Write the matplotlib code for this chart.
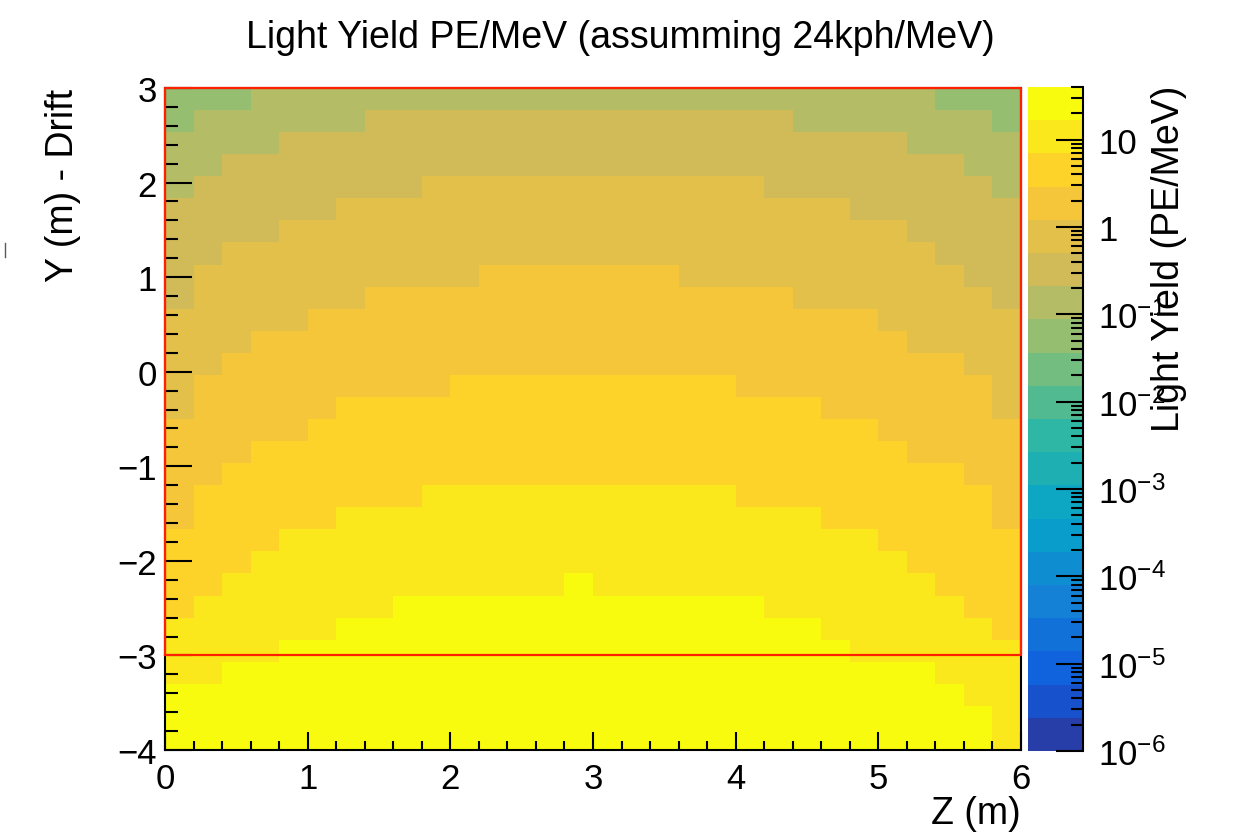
import numpy as np
import matplotlib
matplotlib.use("Agg")
import matplotlib.pyplot as plt
from matplotlib.colors import ListedColormap, LogNorm, to_hex
from matplotlib.ticker import MultipleLocator, LogLocator
from matplotlib.lines import Line2D

plt.rcParams['font.family'] = ['Liberation Sans', 'DejaVu Sans']
plt.rcParams['mathtext.fontset'] = 'custom'
plt.rcParams['mathtext.rm'] = 'Liberation Sans'
plt.rcParams['mathtext.default'] = 'regular'

### binning of the 2D histogram: Z (m) along x, Y (m) along y
z_edges = np.linspace(0.0, 6.0, 31)
y_edges = np.linspace(-4.0, 3.0, 31)

### colour band of every bin, as runs along Z
### (first row = top row at y=3, 30 bins per row)
rows = [
    "a3 b24 a3",
    "a1 b6 c15 b7 a1",
    "b4 c22 b4",
    "b2 c26 b2",
    "b1 c8 d12 c8 b1",
    "c6 d18 c6",
    "c4 d22 c4",
    "c2 d25 c3",
    "c1 d10 e7 d10 c2",
    "c1 d6 e15 d7 c1",
    "d5 e20 d5",
    "d3 e23 d4",
    "d2 e26 d2",
    "d1 e9 f10 e9 d1",
    "d1 e5 f17 e6 d1",
    "e5 f20 e5",
    "e3 f23 e4",
    "e2 f26 e2",
    "e1 f8 g11 f9 e1",
    "e1 f5 g17 f6 e1",
    "f4 g21 f5",
    "f3 g23 f4",
    "f2 g12 h1 g12 f3",
    "f1 g7 h13 g7 f2",
    "g6 h17 g6 f1",
    "g4 h20 g6",
    "g2 h25 g3",
    "h28 g2",
    "h29 g1",
    "h29 g1",
]
# light yield (PE/MeV) typical of each colour band
band_value = {'a': 0.06, 'b': 0.14, 'c': 0.33, 'd': 0.78,
              'e': 1.9, 'f': 4.5, 'g': 11.0, 'h': 26.0}

z_min, z_max = 1e-6, 40.0
n_contours = 20

cbar_ticks = [1e-6, 1e-5, 1e-4, 1e-3, 1e-2, 1e-1, 1, 10]
cbar_labels = [r'$10^{-6}$', r'$10^{-5}$', r'$10^{-4}$', r'$10^{-3}$',
               r'$10^{-2}$', r'$10^{-1}$', '1', '10']

# drift volume outline
box_z = [0.0, 6.0]
box_y = [-3.0, 3.0]

def expand(runs):
    return ''.join(tok[0] * int(tok[1:]) for tok in runs.split())

grid = [expand(r) for r in rows]
light = np.array([[band_value[c] for c in r] for r in grid[::-1]])

### ROOT kBird palette, 20 contour colours
stops = np.linspace(0, 1, 9)
red = [0.2082, 0.0592, 0.0780, 0.0232, 0.1802, 0.5301, 0.8186, 0.9956, 0.9764]
green = [0.1664, 0.3599, 0.5041, 0.6419, 0.7178, 0.7492, 0.7328, 0.7862, 0.9832]
blue = [0.5293, 0.8684, 0.8385, 0.7914, 0.6425, 0.4662, 0.3499, 0.1968, 0.0539]
fr = [int((k + 0.99) * 255 / n_contours) / 254.0 for k in range(n_contours)]
cols = [to_hex((np.interp(f, stops, red), np.interp(f, stops, green), np.interp(f, stops, blue))) for f in fr]
cmap = ListedColormap(cols)

fig = plt.figure(figsize=(12.4, 8.37), dpi=100)
ax = fig.add_axes([165/1240, 1-751/837, 856/1240, 662/837])
cax = fig.add_axes([1028/1240, 1-752/837, 55/1240, 664/837])

mesh = ax.pcolormesh(z_edges, y_edges, light, cmap=cmap, norm=LogNorm(z_min, z_max))
ax.set_xlim(z_edges[0], z_edges[-1])
ax.set_ylim(y_edges[0], y_edges[-1])

ax.plot([box_z[0], box_z[0], box_z[1], box_z[1], box_z[0]],
        [box_y[0], box_y[1], box_y[1], box_y[0], box_y[0]],
        color='#ff2000', lw=1.6, clip_on=False, zorder=5)

ax.xaxis.set_major_locator(MultipleLocator(1))
ax.xaxis.set_minor_locator(MultipleLocator(0.2))
ax.yaxis.set_major_locator(MultipleLocator(1))
ax.yaxis.set_minor_locator(MultipleLocator(0.2))
ax.tick_params(which='both', direction='in', top=False, right=False, width=1.5, labelsize=25)
ax.tick_params(axis='x', which='major', length=13, pad=9)
ax.tick_params(axis='x', which='minor', length=6.5)
ax.tick_params(axis='y', which='major', length=19.5, pad=6)
ax.tick_params(axis='y', which='minor', length=9.5)
for s in ax.spines.values():
    s.set_linewidth(1.5)

ax.set_xlabel('Z (m)', fontsize=27, loc='right')
ax.xaxis.set_label_coords(1.0, -0.068)
ax.xaxis.label.set_va('top')
ax.set_ylabel('Y (m) - Drift', fontsize=27, loc='top')
ax.yaxis.set_label_coords(-0.098, 1.0)

cb = fig.colorbar(mesh, cax=cax)
cb.outline.set_visible(False)
cb.set_ticks(cbar_ticks, labels=cbar_labels)
cax.yaxis.set_minor_locator(LogLocator(base=10, subs=np.arange(2, 10), numticks=30))
cax.tick_params(which='both', direction='in', left=False, right=True, width=1.5, labelsize=25)
cax.tick_params(which='major', length=19.5, pad=11)
cax.tick_params(which='minor', length=8.6)
cax.plot([1, 1], [0, 1], transform=cax.transAxes, color='k', lw=1.5, clip_on=False)

fig.text(1169/1240, 1-86/837, 'Light Yield (PE/MeV)', rotation=90, ha='center', va='top', fontsize=27)
fig.text(0.5, 1-20/837, 'Light Yield PE/MeV (assumming 24kph/MeV)', ha='center', va='top', fontsize=27)
fig.add_artist(Line2D([5/1240, 5/1240], [1-244/837, 1-258/837], color='0.35', lw=1))

fig.savefig('out.png', dpi=100)
